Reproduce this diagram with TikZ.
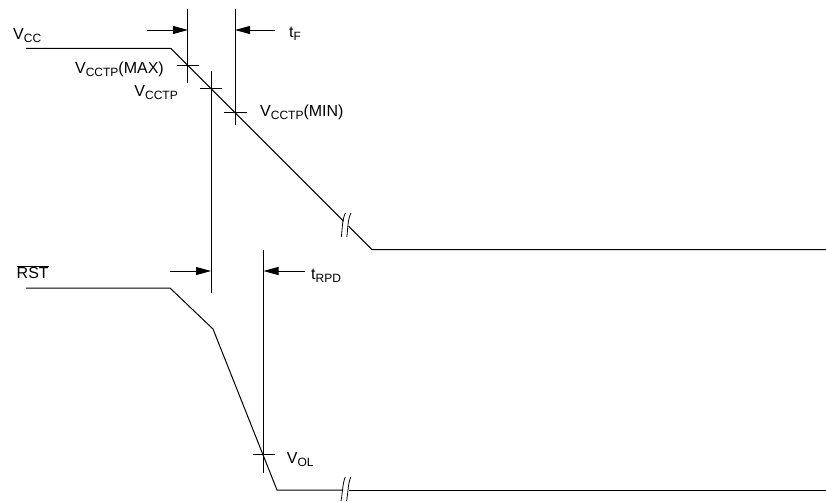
\documentclass[tikz,border=0pt]{standalone}
\usepackage{fontspec}
\setmainfont{Liberation Sans}
\usetikzlibrary{arrows.meta}
\newcommand\lsub[1]{\raisebox{-3.2pt}{\fontsize{12}{12}\selectfont #1}}
\tikzset{
  wave/.style={line width=1pt, black, line join=miter},
  guide/.style={line width=0.9pt, black},
  tick/.style={line width=0.9pt, black},
  brk/.style={line width=0.8pt, black},
  marrow/.style={line width=0.9pt, -{Triangle[length=15pt,width=8pt]}},
  lbl/.style={inner sep=0pt, font=\fontsize{16}{19}\selectfont}
}
\begin{document}
\begin{tikzpicture}[x=1pt,y=-1pt]
\useasboundingbox (0,0) rectangle (826,501);
% VCC waveform
\coordinate (v0) at (26,48.3);
\coordinate (v1) at (170.7,48.3);
\coordinate (pmax) at (187.9,65.5);
\coordinate (ptp) at (211,88.6);
\coordinate (pmin) at (235,112.6);
\coordinate (vb1) at (343.6,221.2);
\coordinate (vb2) at (348.6,226.2);
\coordinate (v2) at (372,249.6);
\coordinate (v3) at (826,249.6);
\draw[wave] (v0) -- (v1) -- (vb1);
\draw[wave] (vb2) -- (v2) -- (v3);
\draw[brk] (345.5,213) .. controls (342,219) and (342.3,231) .. (341.3,237);
\draw[brk] (351,213) .. controls (347.5,219) and (347.8,231) .. (346.8,237);
% RST waveform
\coordinate (r0) at (26,288);
\coordinate (r1) at (170,288);
\coordinate (r2) at (213,329);
\coordinate (pol) at (263.3,454.5);
\coordinate (r3) at (277,490);
\coordinate (rb1) at (343.2,490);
\coordinate (rb2) at (349,490);
\coordinate (r4) at (826,490);
\draw[wave] (r0) -- (r1) -- (r2) -- (r3) -- (rb1);
\draw[wave] (rb2) -- (r4);
\draw[brk] (345.3,477) .. controls (342.5,483) and (342.5,494) .. (341,501);
\draw[brk] (350.8,477) .. controls (348,483) and (348,494) .. (346.5,501);
% vertical guide lines
\coordinate (a0) at (187.9,9);   \coordinate (a1) at (187.9,83);
\coordinate (b0) at (211,71);    \coordinate (b1) at (211,293);
\coordinate (c0) at (235,9);     \coordinate (c1) at (235,125);
\coordinate (d0) at (263.5,250); \coordinate (d1) at (263.5,473);
\draw[guide] (a0) -- (a1);
\draw[guide] (b0) -- (b1);
\draw[guide] (c0) -- (c1);
\draw[guide] (d0) -- (d1);
% ticks
\draw[tick] ([xshift=-11.3pt]pmax) -- ([xshift=11.3pt]pmax);
\draw[tick] ([xshift=-11pt]ptp) -- ([xshift=11pt]ptp);
\draw[tick] ([xshift=-11.5pt]pmin) -- ([xshift=11.5pt]pmin);
\draw[tick] ([xshift=-10.7pt]pol) -- ([xshift=11.7pt]pol);
% arrows
\coordinate (fa) at (147,30);   \coordinate (fat) at (187.9,30);
\coordinate (fb) at (275,30);   \coordinate (fbt) at (235,30);
\coordinate (ra) at (170,271);  \coordinate (rat) at (211,271);
\coordinate (rb) at (305,271);  \coordinate (rbt) at (263.5,271);
\draw[marrow] (fa) -- (fat);
\draw[marrow] (fb) -- (fbt);
\draw[marrow] (ra) -- (rat);
\draw[marrow] (rb) -- (rbt);
% labels
\node[lbl, anchor=base west] (lvcc) at (13,39.3) {V\lsub{CC}};
\node[lbl, anchor=base west] (ltf) at (289,37.5) {t\lsub{F}};
\node[lbl, anchor=base east] (lmax) at (164,73) {V\lsub{CCTP}(MAX)};
\node[lbl, anchor=base east] (ltp) at (178,96) {V\lsub{CCTP}};
\node[lbl, anchor=base west] (lmin) at (260,116.5) {V\lsub{CCTP}(MIN)};
\node[lbl, anchor=base west] (lrst) at (16.5,278.5) {$\overline{\mbox{RST}}$};
\node[lbl, anchor=base west] (ltrpd) at (311,279) {t\lsub{RPD}};
\node[lbl, anchor=base west] (lvol) at (286.7,463) {V\lsub{OL}};
\end{tikzpicture}
\end{document}
